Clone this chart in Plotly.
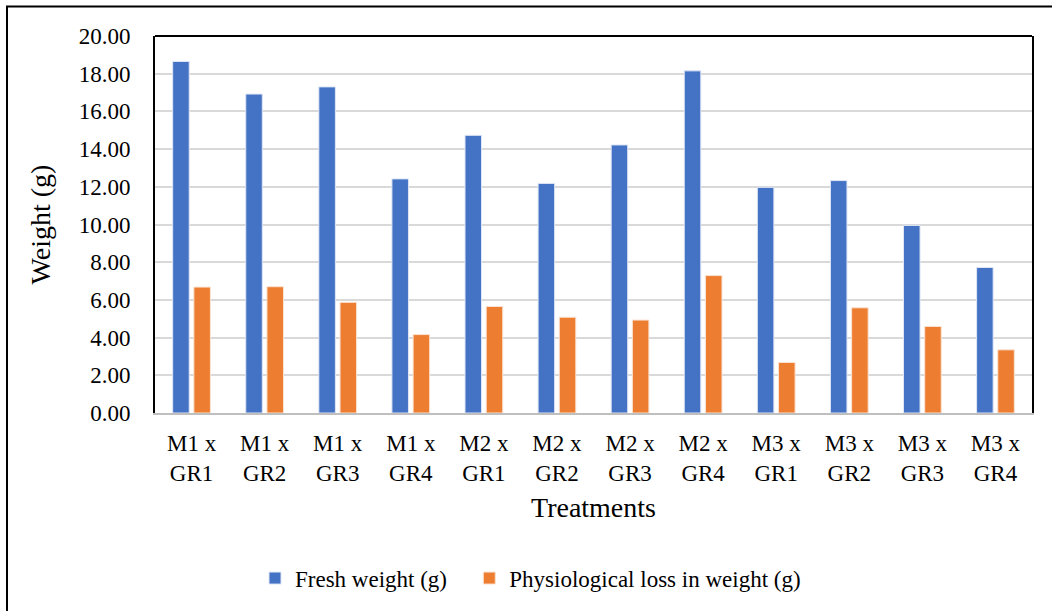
import plotly.graph_objects as go

categories = ["M1 x<br>GR1", "M1 x<br>GR2", "M1 x<br>GR3", "M1 x<br>GR4",
              "M2 x<br>GR1", "M2 x<br>GR2", "M2 x<br>GR3", "M2 x<br>GR4",
              "M3 x<br>GR1", "M3 x<br>GR2", "M3 x<br>GR3", "M3 x<br>GR4"]
fresh_weight = [18.65, 16.92, 17.30, 12.42, 14.73, 12.18, 14.22, 18.15, 11.97, 12.33, 9.95, 7.72]
pwl = [6.68, 6.70, 5.87, 4.16, 5.65, 5.08, 4.93, 7.29, 2.68, 5.58, 4.59, 3.35]
yticks = [0, 2, 4, 6, 8, 10, 12, 14, 16, 18, 20]

FONT = "Liberation Serif, Times New Roman, serif"

fig = go.Figure()
fig.add_trace(go.Bar(x=categories, y=fresh_weight, name="Fresh weight (g)\u00a0\u00a0\u00a0",
                     marker=dict(color="#4472C4", line=dict(color="#dfe6f5", width=1))))
fig.add_trace(go.Bar(x=categories, y=pwl, name="Physiological loss in weight (g)",
                     marker=dict(color="#ED7D31", line=dict(color="#fbe2d2", width=1))))

fig.update_layout(
    width=1052, height=611,
    margin=dict(l=155, r=20, t=36, b=198),
    paper_bgcolor="white", plot_bgcolor="white",
    font=dict(family=FONT, size=23, color="black"),
    barmode="group", bargap=0.42, bargroupgap=0.22,
    showlegend=True,
    legend=dict(orientation="h", x=(269 - 14 - 155) / 877, xanchor="left", y=-0.438, yanchor="middle",
                font=dict(size=23, family=FONT), bgcolor="rgba(0,0,0,0)"),
    xaxis=dict(showgrid=False, showline=True, linecolor="#bfbfbf", linewidth=2,
               ticks="", tickfont=dict(size=23), ticklabelstandoff=8,
               title=dict(text="Treatments", font=dict(size=28), standoff=13),
               automargin=False),
    yaxis=dict(range=[0, 20], tickvals=yticks, tickformat=".2f",
               showgrid=True, gridcolor="#d9d9d9", gridwidth=1.5,
               showline=True, linecolor="black", linewidth=2, mirror=True,
               ticks="", tickfont=dict(size=23), ticklabelstandoff=18,
               title=dict(text="Weight (g)", font=dict(size=28), standoff=20),
               zeroline=False, automargin=False),
    shapes=[
        dict(type="line", xref="paper", yref="paper", x0=0, x1=1, y0=1, y1=1,
             line=dict(color="black", width=2)),
        dict(type="rect", xref="paper", yref="paper",
             x0=(7 - 155) / 877, x1=(1060 - 155) / 877,
             y0=(413 - 640) / 377, y1=(413 - 6.5) / 377,
             line=dict(color="black", width=2), fillcolor="rgba(0,0,0,0)", layer="below"),
    ],
)

fig.write_html("out.html")
